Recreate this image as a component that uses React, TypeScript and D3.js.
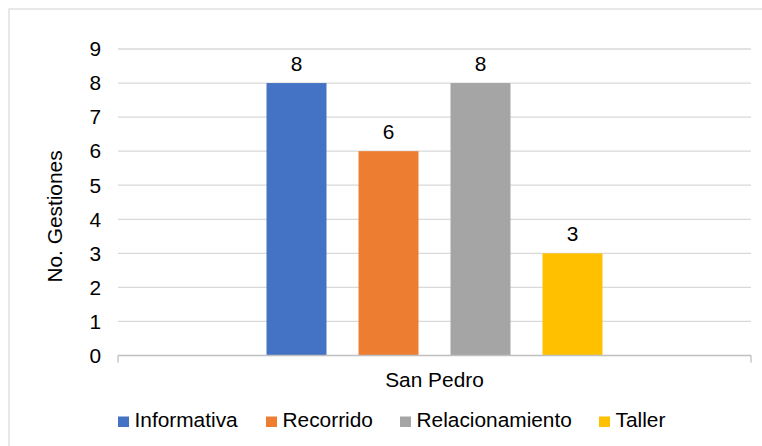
import React from "react";
import * as d3 from "d3";

const categories = ["San Pedro"];
const seriesNames = ["Informativa", "Recorrido", "Relacionamiento", "Taller"];
const seriesValues = [8, 6, 8, 3];
const seriesColors = ["#4472C4", "#ED7D31", "#A5A5A5", "#FFC000"];
const yTicks = [0, 1, 2, 3, 4, 5, 6, 7, 8, 9];
const yTitle = "No. Gestiones";

const W = 762;
const H = 446;
const FONT = "'Liberation Sans', Arial, sans-serif";
const FS = 19.5;
const SX = 1.07;

function SText(props: { x: number; y: number; anchor?: string; children: any; rotate?: number; fill?: string }) {
  const { x, y, anchor = "start", children, rotate = 0, fill = "#000" } = props;
  return (
    <text
      transform={`translate(${x},${y}) rotate(${rotate}) scale(${SX},1)`}
      textAnchor={anchor}
      fontFamily={FONT}
      fontSize={FS}
      fill={fill}
    >
      {children}
    </text>
  );
}

export default function App() {
  const left = 118;
  const right = 751;
  const y = d3.scaleLinear().domain([0, 9]).range([355.5, 49]);
  const x0 = d3.scaleBand<string>().domain(categories).range([left, right]);
  const center = (x0(categories[0]) as number) + x0.bandwidth() / 2;
  const x1 = d3
    .scaleBand<string>()
    .domain(seriesNames)
    .range([center - 184, center + 184])
    .paddingInner(0.348)
    .paddingOuter(0.174);

  const legendX = [118, 266, 400, 599];

  return (
    <svg width={W} height={H} style={{ position: "absolute", left: 0, top: 0, background: "#fff" }}>
      <rect x={0} y={0} width={W} height={H} fill="#fff" />
      {/* chart border */}
      <rect x={9} y={9} width={W + 10} height={H + 10} fill="none" stroke="#d9d9d9" strokeWidth={1.2} />
      {/* gridlines */}
      {yTicks.map((t) =>
        t === 0 ? null : (
          <line key={t} x1={left} x2={right} y1={y(t)} y2={y(t)} stroke="#d9d9d9" strokeWidth={1.3} />
        )
      )}
      {/* y tick labels */}
      {yTicks.map((t) => (
        <SText key={t} x={101} y={y(t) + 7.3} anchor="end">
          {t}
        </SText>
      ))}
      {/* bars */}
      {seriesNames.map((s, i) => (
        <rect
          key={s}
          x={x1(s) as number}
          y={y(seriesValues[i])}
          width={x1.bandwidth()}
          height={y(0) - y(seriesValues[i])}
          fill={seriesColors[i]}
        />
      ))}
      {/* data labels */}
      {seriesNames.map((s, i) => (
        <SText key={s} x={(x1(s) as number) + x1.bandwidth() / 2} y={y(seriesValues[i]) - 12.5} anchor="middle">
          {seriesValues[i]}
        </SText>
      ))}
      {/* x axis */}
      <line x1={left} x2={right} y1={y(0)} y2={y(0)} stroke="#bfbfbf" strokeWidth={1.3} />
      <line x1={left} x2={left} y1={y(0)} y2={y(0) + 7} stroke="#bfbfbf" strokeWidth={1.3} />
      <line x1={right} x2={right} y1={y(0)} y2={y(0) + 7} stroke="#bfbfbf" strokeWidth={1.3} />
      {categories.map((c) => (
        <SText key={c} x={(x0(c) as number) + x0.bandwidth() / 2} y={387} anchor="middle">
          {c}
        </SText>
      ))}
      {/* y title */}
      <SText x={62} y={216.5} anchor="middle" rotate={-90}>
        {yTitle}
      </SText>
      {/* legend */}
      {seriesNames.map((s, i) => (
        <g key={s}>
          <rect x={legendX[i]} y={416.5} width={11} height={10.5} fill={seriesColors[i]} />
          <SText x={legendX[i] + 16.5} y={427}>
            {s}
          </SText>
        </g>
      ))}
    </svg>
  );
}
